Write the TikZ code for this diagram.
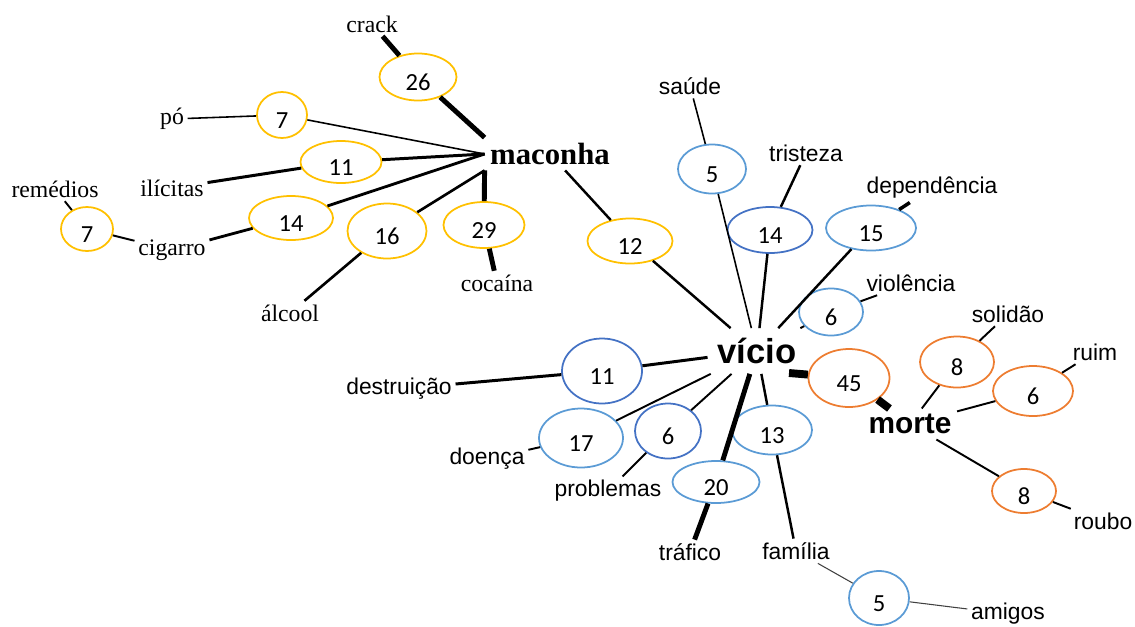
\documentclass[tikz,border=0pt]{standalone}
\usepackage{fontspec}
\setmainfont{Liberation Serif}
\newfontfamily\wordsans{Liberation Sans}
\newfontfamily\numfont{Carlito}
\usetikzlibrary{shapes.geometric}
\definecolor{ovalgold}{RGB}{255,192,0}
\definecolor{ovalsky}{RGB}{91,155,213}
\definecolor{ovalblue}{RGB}{68,114,196}
\definecolor{ovalorange}{RGB}{237,125,49}

\begin{document}
\begin{tikzpicture}[
    x=0.02cm, y=-0.02cm,
    countoval/.style n args={3}{ellipse,draw=#1,line width=1pt,inner sep=0pt,
      minimum width=#2*0.02cm,minimum height=#3*0.02cm,
      font=\numfont\fontsize{14}{14}\selectfont,text height=15pt,text depth=0pt},
    serifword/.style={inner sep=2pt,font=\fontsize{13.5}{16}\selectfont},
    sansword/.style={inner sep=2pt,font=\wordsans\fontsize{13}{15}\selectfont},
    serifhub/.style={inner sep=3pt,font=\bfseries\fontsize{17.5}{20}\selectfont},
    sanshub/.style={inner sep=#1,font=\wordsans\bfseries\fontsize{19.7}{22}\selectfont},
    tie/.style={line width=#1}
  ]
  \useasboundingbox (0,0) rectangle (1135,626);

  % hubs
  \node[serifhub] (maconha) at (550,154) {maconha};
  \node[sanshub=5.5pt] (vicio) at (757,351) {vício};
  \node[sanshub=3pt,font=\wordsans\bfseries\fontsize{17}{20}\selectfont] (morte) at (910,424) {morte};
  \coordinate (vicioknot) at (789,373);

  % maconha cluster
  \node[serifword] (crack) at (372,24) {crack};
  \node[serifword] (po) at (172,119) {pó};
  \node[serifword] (ilicitas) at (172,188) {ilícitas};
  \node[serifword] (remedios) at (55,189) {remédios};
  \node[serifword] (cigarro) at (172,250) {cigarro};
  \node[serifword] (alcool) at (290,313) {álcool};
  \node[serifword] (cocaina) at (497,283) {cocaína};

  \node[countoval={ovalgold}{77}{47}] (c26) at (418,77) {26};
  \node[countoval={ovalgold}{50}{46}] (c7po) at (282,115) {7};
  \node[countoval={ovalgold}{81}{42}] (c11) at (341,162) {11};
  \node[countoval={ovalgold}{84}{44}] (c14) at (291,218) {14};
  \node[countoval={ovalgold}{79}{55}] (c16) at (387,231) {16};
  \node[countoval={ovalgold}{52}{44}] (c7rem) at (87,229) {7};
  \node[countoval={ovalgold}{81}{46}] (c29) at (484,225) {29};
  \node[countoval={ovalgold}{85}{45}] (c12) at (630,241) {12};

  \draw[tie=2.8pt] (crack) -- (c26) (c26) -- (maconha.north west);
  \draw[tie=0.9pt] (po) -- (c7po) (c7po) -- (maconha.west);
  \draw[tie=1.7pt] (ilicitas) -- (c11) (c11) -- (maconha.west);
  \draw[tie=1.6pt] (cigarro) -- (c14) (c14) -- (maconha.west);
  \draw[tie=1.5pt] (alcool) -- (c16) (c16) -- (maconha.south west);
  \draw[tie=2.8pt] (cocaina) -- (c29) (c29) -- (maconha.south west);
  \draw[tie=1.1pt] (remedios) -- (c7rem) (c7rem) -- (cigarro);
  \draw[tie=1.4pt] (maconha) -- (c12) (c12) -- (vicio);

  % vicio cluster
  \node[sansword] (saude) at (690,86) {saúde};
  \node[sansword] (tristeza) at (806,153) {tristeza};
  \node[sansword] (dependencia) at (932,188) {dependência};
  \node[sansword] (violencia) at (911,283) {violência};
  \node[sansword] (destruicao) at (399,389) {destruição};
  \node[sansword] (doenca) at (487,459) {doença};
  \node[sansword] (problemas) at (608,491) {problemas};
  \node[sansword] (trafico) at (690,552) {tráfico};
  \node[sansword] (familia) at (796,551) {família};
  \node[sansword] (amigos) at (1008,614) {amigos};

  \node[countoval={ovalsky}{68}{49}] (c5sau) at (712,169) {5};
  \node[countoval={ovalblue}{85}{46}] (c14tri) at (770,230) {14};
  \node[countoval={ovalsky}{90}{45}] (c15) at (871,228) {15};
  \node[countoval={ovalsky}{64}{47}] (c6vio) at (831,312) {6};
  \node[countoval={ovalblue}{80}{65}] (c11des) at (602,371) {11};
  \node[countoval={ovalsky}{84}{59}] (c17) at (581,438) {17};
  \node[countoval={ovalblue}{66}{55}] (c6pro) at (668,431) {6};
  \node[countoval={ovalsky}{87}{42}] (c20) at (716,482) {20};
  \node[countoval={ovalsky}{80}{49}] (c13) at (772,430) {13};
  \node[countoval={ovalsky}{60}{54}] (c5ami) at (879,598) {5};

  \draw[tie=0.9pt] (saude) -- (c5sau) (c5sau) -- (vicio);
  \draw[tie=1.4pt] (tristeza) -- (c14tri) (c14tri) -- (vicio);
  \draw[tie=2pt] (dependencia) -- (c15);
  \draw[tie=1.4pt] (c15) -- (vicio);
  \draw[tie=1.1pt] (violencia) -- (c6vio) (c6vio) -- (vicio);
  \draw[tie=1.7pt] (vicio) -- (c11des) (c11des) -- (destruicao);
  \draw[tie=1.1pt] (vicio) -- (c17) (c17) -- (doenca);
  \draw[tie=1.1pt] (vicio) -- (c6pro) (c6pro) -- (problemas);
  \draw[tie=2.8pt] (vicio) -- (c20) (c20) -- (trafico);
  \draw[tie=1.4pt] (vicio) -- (c13) (c13) -- (familia);
  \draw[tie=0.6pt,black!75] (familia) -- (c5ami) (c5ami) -- (amigos);

  % morte cluster
  \node[sansword] (solidao) at (1008,314) {solidão};
  \node[sansword] (ruim) at (1095,352) {ruim};
  \node[sansword] (roubo) at (1103,521) {roubo};

  \node[countoval={ovalorange}{81}{58}] (c45) at (849,378) {45};
  \node[countoval={ovalorange}{74}{51}] (c8sol) at (957,362) {8};
  \node[countoval={ovalorange}{80}{50}] (c6rui) at (1033,391) {6};
  \node[countoval={ovalorange}{64}{44}] (c8rou) at (1024,491) {8};

  \draw[tie=4.5pt] (vicioknot) -- (c45) (c45) -- (morte);
  \draw[tie=1.1pt] (morte) -- (c8sol) (c8sol) -- (solidao);
  \draw[tie=1.1pt] (morte) -- (c6rui) (c6rui) -- (ruim);
  \draw[tie=1.1pt] (morte) -- (c8rou) (c8rou) -- (roubo);
\end{tikzpicture}
\end{document}
